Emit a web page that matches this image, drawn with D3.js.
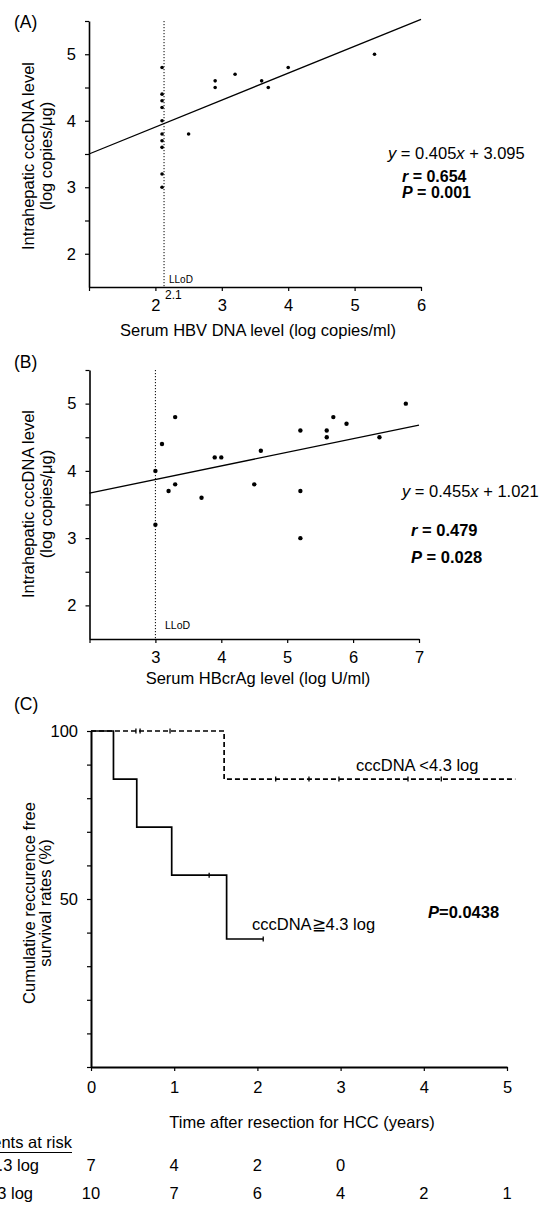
<!DOCTYPE html>
<html>
<head>
<meta charset="utf-8">
<script src="https://cdn.jsdelivr.net/npm/d3@7"></script>
<style>
	body { margin: 0; background: #fff; }
	svg text { font-family: "Liberation Sans", Arial, Helvetica, sans-serif; fill: #000; }
</style>
</head>
<body>
<svg id="wrapper" width="547" height="1206"></svg>
<script>
// (A) serum HBV DNA vs intrahepatic cccDNA
let hbvDNA = [2.1, 2.1, 2.1, 2.1, 2.1, 2.1, 2.1, 2.1, 2.1, 2.1, 2.5, 2.9, 2.9, 3.2, 3.6, 3.7, 4.0, 5.3];
let cccA = [4.8, 4.4, 4.3, 4.2, 4.0, 3.8, 3.7, 3.6, 3.2, 3.0, 3.8, 4.6, 4.5, 4.7, 4.6, 4.5, 4.8, 5.0];
let slopeA = 0.405;
let interceptA = 3.095;
let lodA = 2.13;
let xTicksA = [1, 2, 3, 4, 5, 6];

// (B) serum HBcrAg vs intrahepatic cccDNA
let hbcrAg = [3.0, 3.0, 3.1, 3.3, 3.2, 3.3, 3.7, 3.9, 4.0, 4.5, 4.6, 5.2, 5.2, 5.2, 5.6, 5.6, 5.7, 5.9, 6.4, 6.8];
let cccB = [4.0, 3.2, 4.4, 4.8, 3.7, 3.8, 3.6, 4.2, 4.2, 3.8, 4.3, 4.6, 3.7, 3.0, 4.6, 4.5, 4.8, 4.7, 4.5, 5.0];
let fitBX = [2, 7];
let fitBY = [3.67, 4.68];
let lodB = 3;
let xTicksB = [2, 3, 4, 5, 6, 7];

let cccTicks = [2, 2.5, 3, 3.5, 4, 4.5, 5, 5.5];

// (C) recurrence free survival
let highTimes = [0, 0.27, 0.55, 0.97, 1.63, 2.07];
let highSurv = [100, 85.7, 71.4, 57.1, 38.1, 38.1];
let highCensor = [1.42, 2.07];
let lowTimes = [0, 1.6, 5.1];
let lowSurv = [100, 85.7, 85.7];
let lowCensor = [0.54, 0.59, 0.95, 2.22, 2.62, 2.98, 3.81, 4.21];
let yearTicks = [0, 1, 2, 3, 4, 5];
let survTicks = [0, 10, 20, 30, 40, 50, 60, 70, 80, 90, 100];
let riskHigh = [7, 4, 2, 0];
let riskLow = [10, 7, 6, 4, 2, 1];

let svg = d3.select("#wrapper");
const FS = 16.5;

let styleAxis = function (g, w) {
	g.attr("font-size", null).attr("font-family", null);
	g.select(".domain").attr("stroke", "#000").attr("stroke-width", w);
	g.selectAll(".tick line").attr("stroke", "#000").attr("stroke-width", 1.2);
	g.selectAll(".tick text").attr("font-size", FS).attr("fill", "#000");
};

let yTitle = function (lines, xs, cy) {
	lines.forEach((t, i) => {
		svg.append("text")
			.attr("transform", "translate(" + xs[i] + "," + cy + ") rotate(-90)")
			.attr("text-anchor", "middle")
			.attr("font-size", FS)
			.text(t);
	});
};

// statistic lines, parts = [[text, italic, bold]]
let statText = function (x, y, parts, size) {
	let t = svg.append("text").attr("x", x).attr("y", y).attr("font-size", size || FS);
	parts.forEach((p) => {
		t.append("tspan")
			.attr("font-style", p[1] ? "italic" : "normal")
			.attr("font-weight", p[2] ? "bold" : "normal")
			.text(p[0]);
	});
};

let scatter = function (cfg) {
	let x = cfg.x, y = cfg.y;
	let base = y.range()[0];

	svg.append("text").attr("x", 14).attr("y", cfg.tagY).attr("font-size", 17.5).text(cfg.tag);

	svg.append("line")
		.attr("x1", x(cfg.lod)).attr("x2", x(cfg.lod))
		.attr("y1", y(5.5)).attr("y2", base)
		.attr("stroke", "#000").attr("stroke-width", 1)
		.attr("stroke-dasharray", "1.2,1.8");

	svg.append("path")
		.attr("d", d3.line().x((d) => x(d[0])).y((d) => y(d[1]))(cfg.fit))
		.attr("fill", "none").attr("stroke", "#000").attr("stroke-width", 1.3);

	svg.selectAll(null)
		.data(cfg.xs)
		.enter()
		.append("circle")
		.attr("cx", (d) => x(d))
		.attr("cy", (d, i) => y(cfg.ys[i]))
		.attr("r", cfg.r)
		.attr("fill", "#000");

	svg.append("g")
		.attr("transform", "translate(" + x.range()[0] + ",0)")
		.call(d3.axisLeft(y).tickValues(cccTicks).tickSize(4).tickPadding(9).tickSizeOuter(0)
			.tickFormat((d) => (Number.isInteger(d) ? d : "")))
		.call(styleAxis, 1.6);

	svg.append("g")
		.attr("transform", "translate(0," + base + ")")
		.call(d3.axisBottom(x).tickValues(cfg.xTicks).tickSize(4).tickPadding(8).tickSizeOuter(0)
			.tickFormat((d) => (d === cfg.xTicks[0] ? "" : d)))
		.call(styleAxis, 1.6);

	yTitle(["Intrahepatic cccDNA level", "(log copies/\u03bcg)"], [34, 52], cfg.titleY);

	svg.append("text")
		.attr("x", 258).attr("y", base + cfg.xTitleDy)
		.attr("text-anchor", "middle").attr("font-size", FS)
		.text(cfg.xTitle);
};

// ---- (A)
let xA = d3.scaleLinear().domain([1, 6]).range([89, 421]);
let yA = d3.scaleLinear().domain([1.5, 5.5]).range([287, 21]);
scatter({
	x: xA, y: yA, xs: hbvDNA, ys: cccA, r: 1.8, lod: lodA, xTicks: xTicksA,
	fit: [[1, slopeA * 1 + interceptA], [6, slopeA * 6 + interceptA]],
	tag: "(A)", tagY: 28, titleY: 156, xTitleDy: 49,
	xTitle: "Serum HBV DNA level (log copies/ml)",
});
svg.append("text").attr("x", 169).attr("y", 283).attr("font-size", 10).text("LLoD");
svg.append("text").attr("x", 165).attr("y", 299).attr("font-size", 12).text("2.1");
statText(388, 159, [["y", true], [" = 0.405"], ["x", true], [" + 3.095"]]);
statText(402, 182, [["r", true, true], [" = 0.654", false, true]], 16);
statText(402, 198, [["P", true, true], [" = 0.001", false, true]], 16);

// ---- (B)
let xB = d3.scaleLinear().domain([2, 7]).range([89.5, 419]);
let yB = d3.scaleLinear().domain([1.5, 5.5]).range([639, 370]);
scatter({
	x: xB, y: yB, xs: hbcrAg, ys: cccB, r: 2.2, lod: lodB, xTicks: xTicksB,
	fit: fitBX.map((d, i) => [d, fitBY[i]]),
	tag: "(B)", tagY: 368, titleY: 504, xTitleDy: 45,
	xTitle: "Serum HBcrAg level (log U/ml)",
});
svg.append("text").attr("x", 165).attr("y", 629).attr("font-size", 10.5).text("LLoD");
statText(402, 497, [["y", true], [" = 0.455"], ["x", true], [" + 1.021"]]);
statText(411, 536, [["r", true, true], [" = 0.479", false, true]]);
statText(411, 563, [["P", true, true], [" = 0.028", false, true]]);

// ---- (C)
let xC = d3.scaleLinear().domain([0, 5]).range([91, 507]);
let yC = d3.scaleLinear().domain([0, 100]).range([1067, 731]);

svg.append("text").attr("x", 14).attr("y", 710).attr("font-size", 17.5).text("(C)");

let step = d3.line().x((d) => xC(d[0])).y((d) => yC(d[1])).curve(d3.curveStepAfter);
let survAt = function (times, surv, t) {
	let v = surv[0];
	times.forEach((tt, i) => { if (tt <= t) v = surv[i]; });
	return v;
};

let curves = [
	{ times: lowTimes, surv: lowSurv, censor: lowCensor, dash: "5,3" },
	{ times: highTimes, surv: highSurv, censor: highCensor, dash: null },
];
curves.forEach((c) => {
	svg.append("path")
		.attr("d", step(c.times.map((t, i) => [t, c.surv[i]])))
		.attr("fill", "none").attr("stroke", "#000").attr("stroke-width", 1.7)
		.attr("stroke-dasharray", c.dash);
	svg.selectAll(null)
		.data(c.censor)
		.enter()
		.append("line")
		.attr("x1", (d) => xC(d)).attr("x2", (d) => xC(d))
		.attr("y1", (d) => yC(survAt(c.times, c.surv, d)) - 2.5)
		.attr("y2", (d) => yC(survAt(c.times, c.surv, d)) + 2.5)
		.attr("stroke", "#000").attr("stroke-width", 1.3);
});

svg.append("g")
	.attr("transform", "translate(" + xC.range()[0] + ",0)")
	.call(d3.axisLeft(yC).tickValues(survTicks).tickSize(4).tickPadding(9).tickSizeOuter(0)
		.tickFormat((d) => (d === 50 || d === 100 ? d : "")))
	.call(styleAxis, 2);

svg.append("g")
	.attr("transform", "translate(0," + yC.range()[0] + ")")
	.call(d3.axisBottom(xC).tickValues(yearTicks).tickSize(4).tickPadding(10).tickSizeOuter(0)
		.tickFormat(d3.format("d")))
	.call(styleAxis, 2);

yTitle(["Cumulative reccurence free", "survival rates (%)"], [35, 51], 903);
svg.append("text")
	.attr("x", 302).attr("y", 1128)
	.attr("text-anchor", "middle").attr("font-size", FS)
	.text("Time after resection for HCC (years)");

svg.append("text").attr("x", 356).attr("y", 771).attr("font-size", FS).text("cccDNA <4.3 log");
svg.append("text").attr("x", 252).attr("y", 930).attr("font-size", FS).text("cccDNA\u22674.3 log");
statText(428, 918, [["P", true, true], ["=0.0438", false, true]]);

// patients at risk
svg.append("text").attr("x", 72).attr("y", 1148).attr("text-anchor", "end")
	.attr("font-size", FS).text("Patients at risk");
svg.append("line").attr("x1", 0).attr("x2", 72).attr("y1", 1152.5).attr("y2", 1152.5)
	.attr("stroke", "#000").attr("stroke-width", 1);

let riskRows = [
	{ label: "cccDNA\u22674.3 log", end: 39, y: 1171, values: riskHigh },
	{ label: "cccDNA<4.3 log", end: 33, y: 1199, values: riskLow },
];
riskRows.forEach((row) => {
	svg.append("text").attr("x", row.end).attr("y", row.y).attr("text-anchor", "end")
		.attr("font-size", FS).text(row.label);
	svg.selectAll(null)
		.data(row.values)
		.enter()
		.append("text")
		.attr("x", (d, i) => xC(yearTicks[i]))
		.attr("y", row.y)
		.attr("text-anchor", "middle")
		.attr("font-size", FS)
		.text((d) => d);
});
</script>
</body>
</html>
